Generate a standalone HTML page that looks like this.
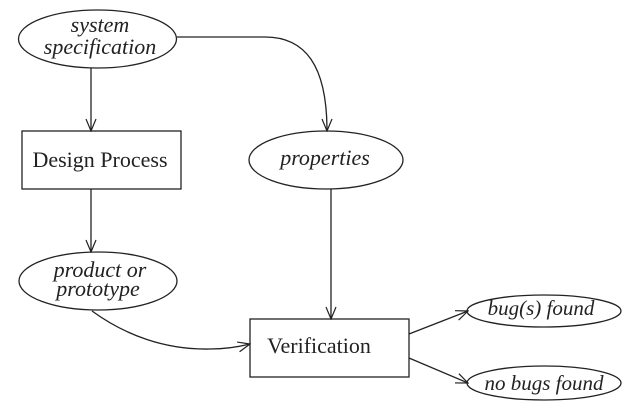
<!DOCTYPE html>
<html><head><style>body{margin:0;background:#fff}svg{display:block}</style></head>
<body>
<svg width="635" height="416" viewBox="0 0 635 416" xmlns="http://www.w3.org/2000/svg" font-family="Liberation Serif, serif" fill="none" stroke="#222" stroke-width="1.3">
<defs><marker id="a" markerWidth="14" markerHeight="12" refX="13" refY="6" orient="auto" markerUnits="userSpaceOnUse"><path d="M1,1 L13,6 L1,11" fill="none" stroke="#222" stroke-width="1.2"/></marker></defs>
<ellipse cx="97.5" cy="39" rx="79" ry="29"/>
<rect x="22" y="131" width="159" height="58"/>
<ellipse cx="326" cy="160" rx="77" ry="29"/>
<ellipse cx="98" cy="281" rx="79" ry="29"/>
<rect x="250" y="319" width="159" height="58"/>
<ellipse cx="544" cy="311" rx="77" ry="16"/>
<ellipse cx="544" cy="383" rx="77" ry="17"/>
<line x1="91" y1="68" x2="91" y2="131" marker-end="url(#a)"/>
<path d="M177,37 L265,37 C305,37 327,65 327,131" marker-end="url(#a)"/>
<line x1="91" y1="189" x2="91" y2="252" marker-end="url(#a)"/>
<line x1="331" y1="189" x2="331" y2="319" marker-end="url(#a)"/>
<path d="M92,311 C125,335 165,350 210,349 C225,349 238,347 250,344" marker-end="url(#a)"/>
<line x1="409" y1="334" x2="468" y2="311" marker-end="url(#a)"/>
<line x1="409" y1="358" x2="468" y2="383" marker-end="url(#a)"/>
<g fill="#222" stroke="none" font-size="22" text-anchor="middle">
<text x="100" y="32" font-style="italic">system</text>
<text x="100" y="54" font-style="italic">specification</text>
<text x="100" y="167">Design Process</text>
<text x="325" y="165" font-style="italic">properties</text>
<text x="100" y="277" font-style="italic">product or</text>
<text x="98" y="296" font-style="italic">prototype</text>
<text x="319" y="353">Verification</text>
<text x="541" y="315" font-style="italic" font-size="21">bug(s) found</text>
<text x="544" y="390" font-style="italic" font-size="21">no bugs found</text>
</g>
</svg>
</body></html>
